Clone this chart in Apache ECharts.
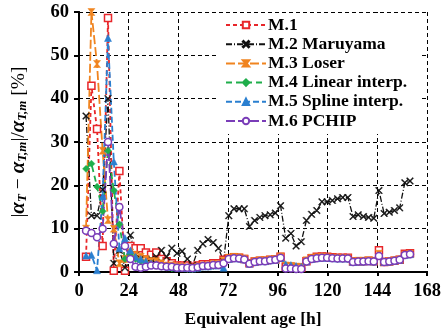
<!DOCTYPE html>
<html>
<head>
<meta charset="utf-8">
<style>
  html, body { margin: 0; padding: 0; background: #fff; }
  #chart { width: 445px; height: 333px; }
</style>
<script src="https://cdn.jsdelivr.net/npm/echarts@6/dist/echarts.min.js"></script>
</head>
<body>
<div id="chart"></div>
<script>
// Equivalent age of each evaluation point [h]
const ages = [3.4, 6.0, 8.7, 11.4, 14.0, 16.8, 19.5, 22.2,
  24.8, 27.3, 29.8, 32.3, 34.8, 37.3, 39.8, 42.3, 44.8, 47.3, 49.8, 52.3, 54.8, 57.3, 59.8,
  62.3, 64.8, 67.3, 69.8, 72.3, 74.8, 77.3, 79.8, 82.3, 84.8, 87.3, 89.8, 92.3, 94.8, 97.3,
  99.8, 102.3, 104.8, 107.3, 109.8, 112.3, 114.8, 117.3, 119.8, 122.3, 124.8, 127.3, 129.8,
  132.3, 134.8, 137.3, 139.8, 142.3, 144.8, 147.3, 149.8, 152.3, 154.8, 157.3, 159.8];

// Relative error of each method [%]
const m1 = [3.5, 43, 33, 6, 58.6, 0.3, 23.3, 0.3,
  6, 5.5, 5.5, 4.5, 4, 4.5, 3, 2.5, 2, 1.5, 1.5, 1.5, 1.2, 1.5, 1.8,
  1.8, 2, 2, 2.8, 3.2, 3.4, 3.3, 3, 2, 2.4, 2.6, 2.6, 2.8, 2.9, 3.5,
  1.2, 1.2, 1.0, 1.0, 2.5, 3.2, 3.5, 3.6, 3.5, 3.4, 3.3, 3.3, 3.3,
  2.4, 2.5, 2.5, 2.6, 2.5, 5, 2.3, 2.4, 2.6, 2.8, 4.2, 4.3];
const m2 = [36, 13, 13, 19, 40, 2, 5, 1,
  8.5, 4, 3, 2, 3, 3.5, 5, 3.5, 5.5, 4.3, 4.8, 3, 1.5, 5, 6.5,
  7.5, 6.8, 5.5, 2.5, 13, 14.6, 14.6, 14.6, 10.5, 11.9, 12.6, 13, 13.2, 13.6, 15.3,
  7.8, 8.9, 6, 7, 11.9, 13.3, 14.2, 16.2, 16.2, 16.5, 16.9, 17.2, 17.2,
  12.8, 13.2, 12.8, 12.6, 12.4, 18.8, 13.5, 13.8, 14.2, 14.8, 20.6, 21];
const m3 = [10, 60, 48, 28, 12, 10, 2, 3,
  4.5, 4, 3.5, 3, 2.5, 2.5, 2, 1.5, 1.5, 1.2, 1.2, 1.0, 1.0, 1.2, 1.5,
  1.5, 1.8, 1.8, 2.6, 3.3, 3.5, 3.4, 3.1, 2.1, 2.5, 2.7, 2.7, 2.9, 3.0, 3.6,
  1.5, 1.4, 1.2, 1.2, 2.7, 3.3, 3.4, 3.5, 3.4, 3.3, 3.3, 3.2, 3.2,
  2.5, 2.6, 2.6, 2.7, 2.6, 4.2, 2.4, 2.5, 2.7, 2.9, 4.0, 4.2];
const m4 = [23.8, 25, 19.7, 14, 28, 18.8, 11, 3,
  4, 3, 2.5, 2, 1.5, 1.5, 1.2, 1.0, 0.8, 0.8, 0.8, 0.7, 0.7, 0.9, 1.2,
  1.2, 1.4, 1.5, 2.2, 2.9, 3.1, 3.0, 2.8, 1.8, 2.2, 2.4, 2.4, 2.6, 2.7, 3.2,
  1.0, 0.9, 0.8, 0.8, 2.3, 2.9, 3.1, 3.2, 3.2, 3.1, 3.0, 3.0, 3.0,
  2.2, 2.3, 2.3, 2.4, 2.3, 3.6, 2.2, 2.3, 2.5, 2.7, 3.8, 4.0];
const m5 = [3.8, 3.9, 0.4, 17.5, 54, 25.5, 5.5, 7.8,
  5, 3.5, 3, 2.5, 2, 1.8, 1.5, 1.3, 1.2, 1.0, 1.0, 0.9, 0.8, 1.0, 1.3,
  1.3, 1.5, 1.5, 1.0, 3.0, 3.2, 3.1, 2.9, 1.9, 2.3, 2.5, 2.5, 2.7, 2.8, 3.3,
  1.8, 1.6, 1.4, 1.2, 2.4, 3.0, 3.2, 3.3, 3.3, 3.2, 3.1, 3.1, 3.1,
  2.3, 2.4, 2.4, 2.5, 2.4, 3.8, 2.3, 2.4, 2.6, 2.8, 3.9, 4.1];
const m6 = [9.5, 9, 8, 10, 30, 6.5, 15, 6,
  3, 1.2, 1.0, 1.2, 1.5, 1.5, 1.3, 1.2, 1.2, 1.0, 1.0, 1.0, 0.9, 1.1, 1.4,
  1.4, 1.6, 1.6, 2.0, 3.0, 3.2, 3.1, 2.9, 1.9, 2.3, 2.5, 2.5, 2.7, 2.8, 3.3,
  0.8, 0.8, 0.7, 0.7, 2.4, 3.0, 3.2, 3.3, 3.3, 3.2, 3.1, 3.1, 3.1,
  2.3, 2.4, 2.4, 2.5, 2.4, 3.7, 2.3, 2.4, 2.6, 2.8, 3.9, 4.1];

const xTicks = [0, 24, 48, 72, 96, 120, 144, 168];
const yTicks = [0, 10, 20, 30, 40, 50, 60];

const serif = '"Liberation Serif", "DejaVu Serif", serif';

const pairs = vals => ages.map((a, i) => [a, vals[i]]);

const crossPath = 'path://M0,1L1,0L5,4L9,0L10,1L6,5L10,9L9,10L5,6L1,10L0,9L4,5Z';
const bowtiePath = 'path://M0,0L10,0L6,5L10,10L0,10L4,5Z';

function lineSeries(name, vals, color, dash, symbol, width, fillSym) {
  return {
    name: name,
    type: 'line',
    data: pairs(vals),
    symbol: symbol,
    symbolSize: 7,
    showAllSymbol: true,
    animation: false,
    lineStyle: { color: color, width: width, type: dash },
    itemStyle: fillSym
      ? { color: color, borderColor: color, borderWidth: 0.5 }
      : { color: '#fff', borderColor: color, borderWidth: 1.5 }
  };
}

const series = [
  lineSeries('M.1', m1, '#e8262a', [4, 3], 'rect', 1.8, false),
  lineSeries('M.2 Maruyama', m2, '#111111', [6, 2, 1, 2], crossPath, 1.3, true),
  lineSeries('M.3 Loser', m3, '#f0841f', [9, 3], bowtiePath, 1.8, true),
  lineSeries('M.4 Linear interp.', m4, '#1fae4b', [6, 4], 'diamond', 1.8, true),
  lineSeries('M.5 Spline interp.', m5, '#2a7fd0', [6, 3], 'triangle', 1.8, true),
  lineSeries('M.6 PCHIP', m6, '#7a3db8', [9, 3], 'circle', 1.8, false)
];

const chart = echarts.init(document.getElementById('chart'), null, { renderer: 'canvas' });

chart.setOption({
  animation: false,
  backgroundColor: '#fff',
  grid: { left: 77, right: 18, top: 12, bottom: 59, containLabel: false },
  legend: {
    orient: 'vertical',
    left: 219,
    top: 13,
    itemWidth: 40,
    itemHeight: 8,
    itemGap: 1.2,
    padding: [3, 14, 4, 6],
    backgroundColor: '#fff',
    textStyle: {
      fontFamily: serif, fontWeight: 'bold', fontSize: 17.5, lineHeight: 17,
      color: '#000', padding: [0, 0, 0, -3]
    },
    data: series.map(s => s.name)
  },
  xAxis: [{
    type: 'value',
    min: 0, max: 168, interval: 24,
    name: 'Equivalent age [h]',
    nameLocation: 'middle',
    nameGap: 38,
    nameTextStyle: { fontFamily: serif, fontWeight: 'bold', fontSize: 17.5, color: '#000' },
    axisLine: { show: true, lineStyle: { color: '#000', width: 2 } },
    axisTick: { show: true, inside: false, length: 4, lineStyle: { color: '#000', width: 2 } },
    axisLabel: {
      fontFamily: serif, fontWeight: 'bold', fontSize: 18.5, color: '#000', margin: 10,
      formatter: v => xTicks.includes(v) ? String(v) : ''
    },
    splitLine: { show: true, lineStyle: { color: '#000', width: 1, type: [4, 3] } }
  }, {
    type: 'value', position: 'top',
    min: 0, max: 168, interval: 24,
    axisLine: { show: true, lineStyle: { color: '#000', width: 2 } },
    axisTick: { show: true, inside: true, length: 4, lineStyle: { color: '#000', width: 1.5 } },
    axisLabel: { show: false },
    splitLine: { show: false }
  }],
  yAxis: [{
    type: 'value',
    min: 0, max: 60, interval: 10,
    name: '{b||}{i|α}{s|T}{b| − }{i|α}{s|T,m}{b||/}{i|α}{s|T,m}{b| [%]}',
    nameLocation: 'middle',
    nameGap: 50,
    nameRotate: 90,
    nameTextStyle: {
      fontFamily: serif, fontSize: 19, color: '#000',
      rich: {
        b: { fontFamily: serif, fontSize: 19.5, color: '#000' },
        i: { fontFamily: serif, fontStyle: 'italic', fontWeight: 'bold', fontSize: 21, color: '#000' },
        s: { fontFamily: serif, fontStyle: 'italic', fontWeight: 'bold', fontSize: 13, color: '#000', verticalAlign: 'bottom', padding: [7, 0, 0, 0] }
      }
    },
    axisLine: { show: true, lineStyle: { color: '#000', width: 2 } },
    axisTick: { show: true, inside: false, length: 5, lineStyle: { color: '#000', width: 2 } },
    axisLabel: {
      fontFamily: serif, fontWeight: 'bold', fontSize: 18.5, color: '#000', margin: 10,
      formatter: v => yTicks.includes(v) ? String(v) : ''
    },
    splitLine: { show: true, lineStyle: { color: '#000', width: 1, type: [4, 3] } }
  }, {
    type: 'value', position: 'right',
    min: 0, max: 60, interval: 10,
    axisLine: { show: true, lineStyle: { color: '#000', width: 2 } },
    axisTick: { show: true, inside: true, length: 4, lineStyle: { color: '#000', width: 1.5 } },
    axisLabel: { show: false },
    splitLine: { show: false }
  }],
  series: series
});
</script>
</body>
</html>
